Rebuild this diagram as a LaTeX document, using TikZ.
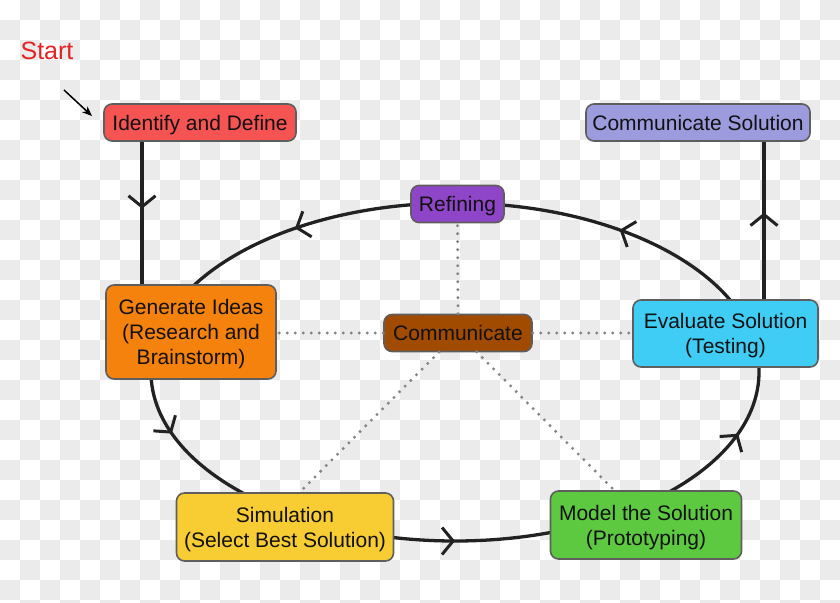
\documentclass[tikz,border=0pt]{standalone}
\usepackage{fontspec}
\setmainfont{Liberation Sans}
\usetikzlibrary{arrows.meta,decorations.markings,calc}
\definecolor{chkgray}{HTML}{EBEBEB}
\definecolor{lin}{HTML}{222222}
\definecolor{bord}{HTML}{5E5E5E}
\definecolor{txt}{HTML}{111111}
\definecolor{dotc}{HTML}{858585}
\definecolor{cIdent}{HTML}{F65353}
\definecolor{cCommSol}{HTML}{9B9BDE}
\definecolor{cRefin}{HTML}{8E45C8}
\definecolor{cComm}{HTML}{A04B00}
\definecolor{cGen}{HTML}{F5820D}
\definecolor{cEval}{HTML}{3FCDF6}
\definecolor{cSim}{HTML}{F8CD33}
\definecolor{cModel}{HTML}{5CC940}
\definecolor{cStart}{HTML}{E52222}
\begin{document}
\begin{tikzpicture}[x=1pt,y=-1pt,
  box/.style={draw=bord, line width=1.6pt, rounded corners=8pt, inner sep=0pt,
    align=center, font=\fontsize{21}{25}\selectfont, text=txt},
  oneline/.style={text height=15pt, text depth=0pt},
  multi/.style={text depth=0pt},
  flow/.style={draw=lin, line width=3.3pt},
  barb/.style={line width=3pt, lin},
  dotline/.style={draw=dotc, line width=3.3pt, line cap=round, dash pattern=on 0pt off 8pt},
  sq/.style={fill=chkgray, draw=none},
]
\clip (0,0) rectangle (840,602);
\fill[white] (0,0) rectangle (840,602);
\foreach \x in {0,40,...,800}{
  \foreach \y in {0,40,...,600}{
    \path[sq] (\x+20,\y) rectangle ++(20,20);
    \path[sq] (\x,\y+20) rectangle ++(20,20);
  }
}
% cycle
\draw[flow, postaction={decorate}, decoration={markings,
   mark=at position 0.1395 with {\arrow[barb]{Straight Barb[length=11pt,width=27pt]}},
   mark=at position 0.3573 with {\arrow[barb]{Straight Barb[length=11pt,width=27pt]}},
   mark=at position 0.5436 with {\arrow[barb]{Straight Barb[length=11pt,width=27pt]}},
   mark=at position 0.75 with {\arrow[barb]{Straight Barb[length=11pt,width=27pt]}},
   mark=at position 0.9563 with {\arrow[barb]{Straight Barb[length=11pt,width=27pt]}}}]
  (759,372) arc[start angle=0, end angle=-360, x radius=304, y radius=169];

% nodes
\node[box, oneline, fill=cIdent, minimum width=192pt, minimum height=37pt] (ident) at (200,122.5) {Identify and Define};
\node[box, oneline, fill=cCommSol, minimum width=224pt, minimum height=37pt] (commsol) at (698,122.5) {Communicate Solution};
\node[box, oneline, fill=cRefin, minimum width=93pt, minimum height=37pt] (refin) at (457.5,204) {Refining};
\node[box, oneline, fill=cComm, minimum width=148pt, minimum height=37pt] (comm) at (458,333) {Communicate};
\node[box, multi, fill=cGen, minimum width=170pt, minimum height=94pt] (gen) at (191,332) {Generate Ideas\\(Research and\\Brainstorm)};
\node[box, multi, fill=cEval, minimum width=185pt, minimum height=67pt] (eval) at (725.5,333.5) {Evaluate Solution\\(Testing)};
\node[box, multi, fill=cSim, minimum width=217pt, minimum height=68pt] (sim) at (285,527) {Simulation\\(Select Best Solution)};
\node[box, multi, fill=cModel, minimum width=191pt, minimum height=68pt] (model) at (646,525) {Model the Solution\\(Prototyping)};

\coordinate (simtop) at (300,492);
\coordinate (modeltop) at (614,490);
% dotted spokes
\draw[dotline] (comm.north) -- (refin.south);
\draw[dotline] (comm.west) -- (gen.east |- comm.west);
\draw[dotline] (comm.east) -- (eval.west |- comm.east);
\draw[dotline] ($(comm.center)!0.12!(simtop)$) -- (simtop);
\draw[dotline] ($(comm.center)!0.12!(modeltop)$) -- (modeltop);

% verticals
\draw[flow, postaction={decorate}, decoration={markings,
   mark=at position 0.47 with {\arrow[barb]{Straight Barb[length=11pt,width=27pt]}}}]
  ([xshift=-58pt]ident.south) -- ([xshift=-49pt]gen.north);
\draw[flow, postaction={decorate}, decoration={markings,
   mark=at position 0.55 with {\arrow[barb]{Straight Barb[length=11pt,width=27pt]}}}]
  ([xshift=38.5pt]eval.north) -- ([xshift=66pt]commsol.south);

% start
\node[font=\fontsize{25}{28}\selectfont, text=cStart] (start) at (47,51) {Start};
\coordinate (sa) at (64,90);
\coordinate (sb) at (92,116);
\draw[line width=1.5pt, black, -{Stealth[length=10pt,width=8pt]}] (sa) -- (sb);
\end{tikzpicture}
\end{document}
